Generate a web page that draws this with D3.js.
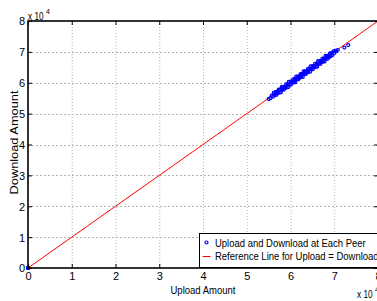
<!DOCTYPE html>
<html><head><meta charset="utf-8">
<script src="https://cdn.jsdelivr.net/npm/d3@7"></script>
<style>body{margin:0;background:#fff}svg{display:block}</style>
</head><body>
<svg id="c" width="377" height="301"></svg>
<script>
// Upload and download amounts per peer (bytes)
const upload = [0,0,0,0,55000,55400,55700,56000,56200,56400,56600,56800,57000,57100,57300,57500,57600,57800,58000,58100,58300,58500,58600,58800,59000,59100,59300,59500,59600,59800,60000,60100,60300,60500,60600,60800,61000,61100,61300,61500,61600,61800,62000,62100,62300,62500,62600,62800,63000,63100,63300,63500,63600,63800,64000,64100,64300,64500,64600,64800,65000,65100,65300,65500,65600,65800,66000,66100,66300,66500,66600,66800,67000,67100,67300,67500,67600,67800,68000,68100,68300,68500,68600,68800,69000,69200,69400,69600,69800,70000,70200,70500,70800,72300,73200,
 56500,57200,57900,58700,59400,60200,60900,61700,62400,63200,63900,64700,65400,66200,66900,67700,68400,69100];
const download = [0,0,0,0,54700,55000,55800,55500,56800,56000,57000,56100,57100,56600,57800,56900,57800,56900,58700,57800,58700,57800,58700,58300,59500,58500,59500,58600,60300,59500,60400,59400,60400,60000,61100,60200,61200,60200,62000,61200,62000,61100,62100,61600,62800,61900,62800,61900,63700,62800,63700,62800,63700,63300,64500,63500,64500,63600,65300,64500,65400,64400,65400,65000,66100,65200,66200,65200,67000,66200,67000,66100,67100,66600,67800,66900,67800,66900,68700,67800,68700,67800,68700,68300,69500,68600,69600,69000,70200,69600,70300,70200,70600,71400,72200,
 56400,57100,57800,58700,59300,60100,60900,61600,62400,63100,63900,64600,65400,66100,66900,67600,68400,69100];
const xTicks = [0,1,2,3,4,5,6,7,8];
const yTicks = [0,1,2,3,4,5,6,7,8];
const refLine = [0, 80000];
const legendLabels = ["Upload and Download at Each Peer", "Reference Line for Upload = Download"];
const exponentLabel = "4";

const svg = d3.select("#c");
const L = 28, T = 21, R = 378, B = 268;
const x = d3.scaleLinear().domain([0, 80000]).range([L, R]);
const y = d3.scaleLinear().domain([0, 80000]).range([B, T]);
const FONT = "'Liberation Sans',Arial,sans-serif";

function narrow(sel, f) {
  sel.each(function() {
    const w = this.getComputedTextLength();
    d3.select(this).attr("textLength", w * f).attr("lengthAdjust", "spacingAndGlyphs");
  });
}

// grid
const g = svg.append("g");
g.selectAll(".gx").data(xTicks.slice(1, -1)).enter().append("line")
  .attr("x1", d => x(d*1e4) + 0.5).attr("x2", d => x(d*1e4) + 0.5).attr("y1", T).attr("y2", B)
  .attr("stroke", "#b4b4b4").attr("stroke-width", 1).attr("stroke-dasharray", "1,2");
g.selectAll(".gy").data(yTicks.slice(1, -1)).enter().append("line")
  .attr("y1", d => Math.round(y(d*1e4)) + 0.5).attr("y2", d => Math.round(y(d*1e4)) + 0.5).attr("x1", L).attr("x2", R)
  .attr("stroke", "#b4b4b4").attr("stroke-width", 1).attr("stroke-dasharray", "2,2");

// reference line
svg.append("line").attr("x1", x(refLine[0])).attr("y1", y(refLine[0]))
  .attr("x2", x(refLine[1])).attr("y2", y(refLine[1]))
  .attr("stroke", "#ff0000").attr("stroke-width", 1);

// points
svg.append("g").selectAll("circle").data(upload.map((u, i) => [u, download[i]])).enter()
  .append("circle").attr("cx", d => x(d[0])).attr("cy", d => y(d[1])).attr("r", 1.5)
  .attr("fill", "none").attr("stroke", "#0000ff").attr("stroke-width", 1.2);

// axes frame
const ax = d3.axisBottom(x).tickValues(xTicks.map(d => d*1e4)).tickSize(-4).tickFormat(d => d/1e4);
const ay = d3.axisLeft(y).tickValues(yTicks.map(d => d*1e4)).tickSize(-4).tickFormat(d => d/1e4);
const axT = d3.axisTop(x).tickValues(xTicks.map(d => d*1e4)).tickSize(-4).tickFormat("");
const ayR = d3.axisRight(y).tickValues(yTicks.map(d => d*1e4)).tickSize(-4).tickFormat("");
function style(sel) {
  sel.select(".domain").remove();
  sel.selectAll("line").attr("stroke", "#000").attr("stroke-width", 1);
  sel.selectAll("text").attr("fill", "#000").style("font-family", FONT).style("font-size", "11px");
}
const gx = svg.append("g").attr("transform", `translate(0,${B})`).call(ax);
style(gx); gx.selectAll("text").attr("y", 12).attr("dy", "0");
const gy = svg.append("g").attr("transform", `translate(${L},0)`).call(ay);
style(gy); gy.selectAll("text").attr("x", -3).attr("dy", "0.36em");
const gt = svg.append("g").attr("transform", `translate(0,${T})`).call(axT); style(gt);
const gr = svg.append("g").attr("transform", `translate(${R},0)`).call(ayR); style(gr);

svg.append("rect").attr("x", L).attr("y", T).attr("width", R - L).attr("height", B - T)
  .attr("fill", "none").attr("stroke", "#000").attr("stroke-width", 1.6);

// legend
const lg = svg.append("g");
lg.append("rect").attr("x", 199.5).attr("y", 233.5).attr("width", 190).attr("height", 34)
  .attr("fill", "#fff").attr("stroke", "#000").attr("stroke-width", 1);
lg.append("circle").attr("cx", 206.5).attr("cy", 242.5).attr("r", 1.5)
  .attr("fill", "none").attr("stroke", "#0000ff").attr("stroke-width", 1.2);
lg.append("line").attr("x1", 202.5).attr("x2", 210.5).attr("y1", 256.5).attr("y2", 256.5)
  .attr("stroke", "#ff0000");
const lt = lg.selectAll("text").data(legendLabels).enter().append("text")
  .attr("x", 215).attr("y", (d, i) => 247 + i*12.5)
  .style("font-family", FONT).style("font-size", "11px").text(d => d);
const f1 = 150.7 / lt.nodes()[0].getComputedTextLength();
narrow(lt, f1);

// axis labels
const xl = svg.append("text").attr("x", (L + R)/2).attr("y", 294).attr("text-anchor", "middle")
  .style("font-family", FONT).style("font-size", "11px").text("Upload Amount");
narrow(xl, 65 / xl.node().getComputedTextLength());
const yl = svg.append("text").attr("transform", `translate(18,${(T+B)/2 - 2}) rotate(-90)`).attr("text-anchor", "middle")
  .style("font-family", FONT).style("font-size", "10.5px").text("Download Amount");
narrow(yl, 104 / yl.node().getComputedTextLength());

// exponent labels
function expo(xp, yp) {
  const t = svg.append("text").attr("x", xp).attr("y", yp)
    .style("font-family", FONT).style("font-size", "11px").text("x 10");
  narrow(t, 15.5 / t.node().getComputedTextLength());
  svg.append("text").attr("x", xp + 18).attr("y", yp - 6)
    .style("font-family", FONT).style("font-size", "7px").text(exponentLabel);
}
expo(28, 19.5);
expo(357, 298);
</script>
</body></html>
